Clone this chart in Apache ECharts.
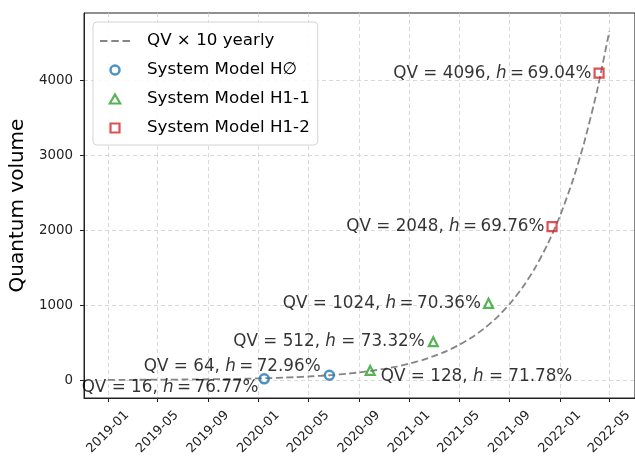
<!DOCTYPE html>
<html>
<head>
<meta charset="utf-8">
<script src="https://cdn.jsdelivr.net/npm/echarts@6/dist/echarts.min.js"></script>
<style>html,body{margin:0;padding:0;background:#fff}#c{width:635px;height:460px}</style>
</head>
<body>
<div id="c"></div>
<script>
// ---- data ----
const trendDates = ['2019-01-01','2019-02-01','2019-03-01','2019-04-01','2019-05-01','2019-06-01','2019-07-01','2019-08-01','2019-09-01','2019-10-01','2019-11-01','2019-12-01',
  '2020-01-01','2020-02-01','2020-03-01','2020-04-01','2020-05-01','2020-06-01','2020-07-01','2020-08-01','2020-09-01','2020-10-01','2020-11-01','2020-12-01',
  '2021-01-01','2021-02-01','2021-03-01','2021-04-01','2021-05-01','2021-06-01','2021-07-01','2021-08-01','2021-09-01','2021-10-01','2021-11-01','2021-12-01',
  '2022-01-01','2022-02-01','2022-03-01','2022-04-01','2022-05-01'];
const trendQV = [2.2,2.7,3.2,3.8,4.7,5.7,6.8,8.3,10.1,12.2,14.8,17.9,
  21.8,26.5,31.8,38.7,46.8,56.9,68.7,83.5,101,123,149,180,
  219,266,318,386,467,567,686,834,1013,1225,1488,1799,
  2187,2659,3172,3857,4660];

const h0Dates = ['2020-01-15','2020-06-21'];
const h0QV = [16, 64];
const h0Fid = ['76.77', '72.96'];

const h11Dates = ['2020-09-28','2021-02-28','2021-07-12'];
const h11QV = [128, 512, 1024];
const h11Fid = ['71.78', '73.32', '70.36'];

const h12Dates = ['2021-12-13','2022-04-06'];
const h12QV = [2048, 4096];
const h12Fid = ['69.76', '69.04'];

const xTickLabels = ['2019-01-01','2019-05-01','2019-09-01','2020-01-01','2020-05-01','2020-09-01','2021-01-01','2021-05-01','2021-09-01','2022-01-01','2022-05-01'];
const yTickLabels = [0, 1000, 2000, 3000, 4000];

const seriesNames = ['QV \u00d7 10 yearly', 'System Model H\u2205', 'System Model H1-1', 'System Model H1-2'];

// ---- label placement (styles, not data) ----
const h0Place = [
  {position:'left', distance:0, offset:[0,9], tight:true},
  {position:'left', distance:3, offset:[0,-9], tight:true}
];
const h11Place = [
  {position:'right', distance:5, offset:[0,6], tight:false},
  {position:'left', distance:3, offset:[0,0], tight:false},
  {position:'left', distance:2, offset:[0,0], tight:true}
];
const h12Place = [
  {position:'left', distance:2, offset:[0,0], tight:true},
  {position:'left', distance:2, offset:[0,0], tight:true}
];

const FONT = 'DejaVu Sans';
const TXT = '#000';
const TICK = '#222';
const C_LINE = '#858585', C0 = '#1f77b4', C1 = '#2ca02c', C2 = '#d62728';
const t = d => Date.parse(d + 'T00:00:00Z');

function pts(dates, qv, fid, place) {
  return dates.map((d, i) => ({
    value: [t(d), qv[i]],
    label: {
      show: true,
      position: place[i].position,
      distance: place[i].distance,
      offset: place[i].offset,
      formatter: '{a|QV = ' + qv[i] + ', }{i|h}{a|' + (place[i].tight ? '\u2009=\u2009' : ' = ') + fid[i] + '%}'
    }
  }));
}

const labelRich = {
  a: {fontFamily: FONT, fontSize: 16.8, color: TXT},
  i: {fontFamily: FONT, fontSize: 16.8, fontStyle: 'italic', color: TXT}
};

const dashIcon = 'path://M0,0H7.5V2H0Z M11.25,0H18.75V2H11.25Z M22.5,0H30V2H22.5Z';
const triIcon = 'path://M5,0L10,8.66L0,8.66Z';
const rectIcon = 'path://M0,0H10V10H0Z';

const chart = echarts.init(document.getElementById('c'), null, {renderer: 'canvas'});
chart.setOption({
  animation: false,
  backgroundColor: '#fff',
  grid: {left: 84, width: 554, top: 13, bottom: 62, show: true, borderColor: '#222', borderWidth: 1, backgroundColor: 'transparent'},
  legend: {
    orient: 'vertical', left: 93, top: 22,
    padding: [9, 8, 7, 7],
    backgroundColor: 'rgba(255,255,255,0.85)', borderColor: '#d4d4d4', borderWidth: 1, borderRadius: 4,
    itemWidth: 30, itemHeight: 9, itemGap: 9, symbolKeepAspect: true,
    textStyle: {fontFamily: FONT, fontSize: 16.7, color: TXT, lineHeight: 20, padding: [0, 0, 0, 12]},
    data: [
      {name: seriesNames[0], icon: dashIcon, itemStyle: {color: C_LINE, borderWidth: 0}},
      {name: seriesNames[1], icon: 'circle', itemStyle: {color: 'rgba(255,255,255,0)', borderColor: C0, borderWidth: 2.5}},
      {name: seriesNames[2], icon: triIcon, itemStyle: {color: 'rgba(255,255,255,0)', borderColor: C1, borderWidth: 2.2}},
      {name: seriesNames[3], icon: rectIcon, itemStyle: {color: 'rgba(255,255,255,0)', borderColor: C2, borderWidth: 2.2}}
    ]
  },
  xAxis: {
    type: 'value',
    min: t('2018-11-04'), max: t('2022-07-02'),
    axisLine: {show: true, onZero: false, lineStyle: {color: '#222', width: 1}},
    axisTick: {show: true, length: 4, lineStyle: {color: '#222'}, customValues: xTickLabels.map(t)},
    axisLabel: {
      customValues: xTickLabels.map(t),
      rotate: 45, align: 'center', verticalAlign: 'middle', margin: 34,
      fontFamily: FONT, fontSize: 12.8, color: TICK,
      formatter: v => { const d = new Date(v); return d.getUTCFullYear() + '-' + String(d.getUTCMonth() + 1).padStart(2, '0'); }
    },
    splitLine: {show: true, lineStyle: {color: '#cfcfcf', type: [4, 3], width: 0.8}}
  },
  yAxis: {
    type: 'value',
    min: -240, max: 4900,
    name: 'Quantum volume', nameLocation: 'middle', nameGap: 44, nameRotate: 90,
    nameTextStyle: {fontFamily: FONT, fontSize: 20, color: TXT},
    axisLine: {show: true, onZero: false, lineStyle: {color: '#222', width: 1}},
    axisTick: {show: true, length: 4, lineStyle: {color: '#222'}, customValues: yTickLabels},
    axisLabel: {customValues: yTickLabels, margin: 11, fontFamily: FONT, fontSize: 13.4, color: TICK, formatter: v => String(v)},
    splitLine: {show: true, lineStyle: {color: '#cfcfcf', type: [4, 3], width: 0.8}}
  },
  series: [
    {
      name: seriesNames[0], type: 'line', symbol: 'none', smooth: 0.2,
      data: trendDates.map((d, i) => [t(d), trendQV[i]]),
      lineStyle: {color: C_LINE, width: 1.8, type: [7, 3.5]},
      itemStyle: {color: C_LINE},
      z: 2
    },
    {
      name: seriesNames[1], type: 'scatter', symbol: 'circle', symbolSize: 9,
      itemStyle: {color: 'rgba(255,255,255,0)', borderColor: C0, borderWidth: 2.5},
      label: {rich: labelRich},
      data: pts(h0Dates, h0QV, h0Fid, h0Place), z: 3
    },
    {
      name: seriesNames[2], type: 'scatter', symbol: 'triangle', symbolSize: 9,
      itemStyle: {color: 'rgba(255,255,255,0)', borderColor: C1, borderWidth: 2.2},
      label: {rich: labelRich},
      data: pts(h11Dates, h11QV, h11Fid, h11Place), z: 3
    },
    {
      name: seriesNames[3], type: 'scatter', symbol: 'rect', symbolSize: 9,
      itemStyle: {color: 'rgba(255,255,255,0)', borderColor: C2, borderWidth: 2.2},
      label: {rich: labelRich},
      data: pts(h12Dates, h12QV, h12Fid, h12Place), z: 3
    }
  ]
});
</script>
</body>
</html>
